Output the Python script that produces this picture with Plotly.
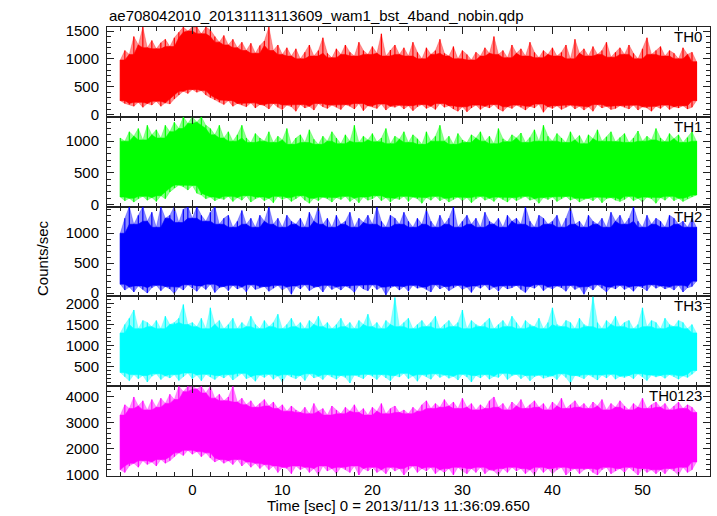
import numpy as np
import plotly.graph_objects as go
from plotly.subplots import make_subplots

# ---- data (envelopes, 0.5 s steps starting at -8 s) ----
t_start = -8.0
t_step = 0.5

th0_hi = [980, 1150, 1080, 1400, 1250, 1570, 1200, 1330,
          1180, 1290, 1350, 1220, 1380, 1480, 1570, 1500,
          1570, 1570, 1450, 1570, 1520, 1400, 1300, 1420,
          1250, 1350, 1200, 1300, 1150, 1280, 1100, 1240,
          1320, 1570, 1150, 1250, 1080, 1200, 1050, 1180,
          1000, 1120, 1250, 1050, 1150, 1380, 1100, 1020,
          1180, 1080, 1250, 1120, 1050, 1300, 1150, 1080,
          1220, 1100, 1450, 1050, 1160, 1250, 1080, 1200,
          1050, 1300, 1120, 1000, 1200, 1080, 1150, 1350,
          1100, 1050, 1220, 1000, 1150, 1080, 980, 1120,
          1050, 1200, 1100, 1400, 1080, 1150, 1020, 1250,
          1100, 1180, 1050, 1300, 1120, 1020, 1150, 1080,
          1200, 1050, 1120, 1250, 1000, 1350, 1100, 1180,
          1050, 1220, 1080, 1150, 1300, 1030, 1120, 1200,
          1080, 1250, 1100, 1000, 1180, 1380, 1080, 1150,
          1220, 1050, 1150, 1100, 1000, 1200, 1080, 1120,
          950]
th0_lo = [250, 200, 180, 150, 220, 130, 200, 170,
          240, 150, 210, 190, 280, 350, 420, 380,
          450, 400, 430, 350, 300, 260, 220, 180,
          250, 150, 200, 170, 140, 210, 120, 180,
          160, 100, 200, 130, 90, 170, 140, 60,
          180, 120, 150, 80, 200, 140, 110, 170,
          130, 90, 180, 150, 100, 200, 70, 160,
          140, 110, 190, 80, 150, 130, 170, 100,
          160, 70, 140, 180, 110, 150, 90, 200,
          130, 160, 100, 60, 140, 50, 120, 170,
          90, 150, 120, 180, 100, 60, 140, 110,
          170, 130, 80, 150, 120, 190, 40, 140,
          110, 160, 90, 130, 170, 100, 150, 80,
          140, 60, 180, 120, 150, 90, 110, 160,
          130, 100, 170, 80, 140, 120, 60, 150,
          110, 170, 90, 140, 120, 160, 100, 130,
          250]

th1_hi = [1050, 1000, 1150, 1080, 1200, 1020, 1250, 1100,
          1180, 1050, 1250, 1150, 1300, 1200, 1385, 1280,
          1385, 1300, 1385, 1250, 1200, 1100, 1250, 1050,
          1150, 1000, 1100, 1250, 1050, 980, 1120, 1050,
          1000, 1150, 980, 1080, 1020, 1200, 950, 1050,
          1100, 980, 1180, 1030, 950, 1080, 1000, 1150,
          1050, 960, 1100, 1000, 1250, 980, 1080, 1020,
          1120, 990, 1050, 1200, 960, 1080, 1030, 1150,
          980, 1100, 1040, 950, 1150, 1000, 1080, 1250,
          1000, 1080, 950, 1120, 1020, 980, 1100, 1050,
          1150, 1000, 1080, 960, 1200, 1040, 990, 1100,
          1050, 1130, 980, 1060, 1180, 1000, 1250, 1080,
          1000, 1120, 1050, 980, 1150, 1020, 1090, 960,
          1100, 1040, 1180, 1000, 1070, 1150, 990, 1060,
          1120, 980, 1050, 1160, 1000, 1080, 1020, 1200,
          1050, 990, 1120, 1040, 1100, 980, 1060, 1150,
          1000]
th1_lo = [120, 60, 100, 40, 90, 130, 70, 110,
          50, 140, 90, 200, 260, 310, 280, 230,
          300, 180, 150, 90, 120, 60, 100, 80,
          130, 50, 110, 70, 140, 40, 90, 120,
          60, 100, 30, 130, 80, 110, 50, 90,
          140, 70, 20, 100, 60, 120, 90, 40,
          110, 80, 130, 50, 100, 30, 120, 70,
          90, 140, 60, 110, 40, 100, 80, 130,
          50, 120, 90, 20, 110, 70, 130, 60,
          100, 40, 80, 120, 60, 110, 30, 90,
          130, 70, 100, 50, 120, 80, 40, 110,
          60, 100, 130, 70, 90, 20, 110, 80,
          120, 50, 90, 130, 70, 100, 40, 80,
          100, 60, 120, 30, 90, 110, 70, 50,
          80, 130, 60, 100, 40, 120, 90, 20,
          110, 70, 130, 60, 100, 50, 90, 120,
          150]

th2_hi = [1000, 1250, 1445, 1150, 1300, 1445, 1200, 1350,
          1100, 1445, 1250, 1300, 1445, 1180, 1400, 1445,
          1250, 1445, 1300, 1200, 1350, 1445, 1150, 1250,
          1300, 1100, 1200, 1380, 1150, 1250, 1100, 1300,
          1200, 1445, 1150, 1250, 1100, 1300, 1200, 1150,
          1250, 1100, 1350, 1200, 1445, 1150, 1250, 1100,
          1300, 1150, 1200, 1350, 1100, 1250, 1180, 1300,
          1150, 1445, 1200, 1100, 1300, 1250, 1150, 1350,
          1200, 1100, 1250, 1150, 1400, 1200, 1100, 1300,
          1150, 1250, 1445, 1100, 1200, 1300, 1150, 1250,
          1100, 1350, 1200, 1150, 1250, 1100, 1300, 1200,
          1250, 1150, 1445, 1200, 1100, 1300, 1250, 1150,
          1200, 1300, 1100, 1250, 1445, 1150, 1200, 1100,
          1300, 1200, 1150, 1250, 1100, 1350, 1200, 1300,
          1150, 1250, 1445, 1200, 1100, 1300, 1150, 1250,
          1200, 1100, 1300, 1250, 1150, 1200, 1100, 1250,
          1100]
th2_lo = [150, 50, 100, 20, 120, 60, 0, 90,
          130, 40, 110, 70, -10, 100, 50, 140,
          80, 30, 120, 60, 150, 10, 90, 110,
          40, 130, 70, 100, 20, 140, 60, 90,
          110, 30, 80, 130, 50, 100, -20, 120,
          70, 140, 40, 90, 110, 20, 130, 60,
          100, 50, 120, 80, 10, 130, 70, 40,
          140, 60, 100, -30, 90, 120, 50, 110,
          30, 130, 80, 100, 60, 20, 140, 70,
          110, 40, 90, 130, 60, 100, 10, 120,
          80, 140, 50, 100, 30, 120, 70, 90,
          130, 60, 10, 110, 80, 140, 40, 100,
          70, 120, 90, 30, 130, 60, 100, -20,
          110, 50, 140, 80, 20, 100, 70, 130,
          60, 100, 30, 120, 90, 40, 140, 80,
          120, 70, 100, 50, 130, 20, 90, 110,
          200]

th3_hi = [1300, 1500, 1650, 1850, 1400, 1600, 1550, 1450,
          1600, 1400, 1700, 1500, 1550, 1650, 1980, 1500,
          1550, 1450, 1650, 1400, 1900, 1500, 1600, 1400,
          1500, 1650, 1400, 1550, 1450, 1700, 1500, 1400,
          1600, 1450, 1550, 1750, 1400, 1500, 1650, 1450,
          1550, 1400, 1600, 1500, 1700, 1450, 1550, 1400,
          1500, 1650, 1450, 1550, 1400, 1600, 1500, 1750,
          1450, 1550, 1400, 1600, 1500, 2150, 1450, 1550,
          1650, 1400, 1500, 1600, 1450, 1550, 1700, 1400,
          1500, 1600, 1450, 1550, 1850, 1400, 1600, 1500,
          1450, 1550, 1650, 1400, 1500, 1600, 1450, 1700,
          1550, 1400, 1600, 1500, 1450, 1650, 1400, 1550,
          1900, 1500, 1450, 1600, 1550, 1400, 1650, 1500,
          1450, 2175, 1550, 1400, 1600, 1500, 1700, 1450,
          1550, 1600, 1400, 1500, 1900, 1450, 1600, 1550,
          1400, 1650, 1500, 1450, 1600, 1550, 1400, 1500,
          1300]
th3_lo = [350, 250, 150, 300, 200, 280, 120, 260,
          320, 180, 270, 220, 300, 160, 250, 340,
          200, 290, 150, 310, 240, 180, 280, 220,
          300, 170, 260, 330, 200, 250, 140, 290,
          230, 310, 190, 270, 120, 300, 240, 200,
          280, 160, 320, 220, 260, 180, 300, 240,
          190, 280, 230, 100, 290, 250, 200, 310,
          260, 180, 300, 220, 150, 280, 240, 330,
          200, 270, 140, 300, 250, 190, 320, 230,
          290, 210, 260, 170, 310, 240, 120, 280,
          220, 300, 190, 260, 230, 330, 180, 270,
          310, 200, 280, 150, 250, 290, 210, 240,
          270, 180, 320, 230, 90, 280, 250, 200,
          300, 240, 170, 290, 220, 310, 190, 260,
          230, 280, 200, 320, 250, 160, 290, 240,
          280, 210, 300, 250, 190, 270, 230, 310,
          400]

th0123_hi = [3300, 3700, 3550, 4000, 3650, 3850, 3500, 3900,
             3600, 3950, 3750, 4100, 3900, 4410, 4200, 4410,
             4410, 4300, 4410, 4150, 4410, 3950, 4100, 3850,
             4000, 4410, 3800, 3950, 3700, 3850, 3600, 3750,
             3900, 3650, 3800, 3550, 3700, 3450, 3650, 3500,
             3400, 3600, 3350, 3750, 3450, 3550, 3300, 3650,
             3500, 3350, 3600, 3450, 3700, 3400, 3550, 3300,
             3600, 3450, 3750, 3350, 3550, 3650, 3400, 3500,
             3350, 3600, 3450, 3700, 3850, 3550, 3750, 3600,
             3900, 3650, 3800, 3550, 3950, 3600, 3750, 3500,
             3700, 3550, 3850, 4000, 3600, 3750, 3500, 3800,
             3650, 3900, 3550, 3700, 3850, 3600, 3750, 3500,
             3800, 3650, 3950, 3550, 3700, 3850, 3600, 3750,
             3550, 3800, 3650, 3900, 3500, 3750, 3600, 3850,
             3650, 3500, 3750, 3600, 3950, 3550, 3700, 3800,
             3600, 3750, 3500, 3650, 3800, 3550, 3700, 3600,
             3400]
th0123_lo = [1200, 1100, 1350, 1450, 1300, 1550, 1400, 1500,
             1350, 1600, 1450, 1550, 1700, 1850, 1750, 1950,
             1800, 1900, 1700, 1850, 1650, 1500, 1600, 1450,
             1550, 1400, 1600, 1350, 1500, 1300, 1450, 1250,
             1400, 1200, 1350, 1100, 1300, 1250, 1050, 1350,
             1200, 1300, 1100, 1250, 1000, 1350, 1150, 1250,
             1050, 1300, 1200, 1100, 1350, 1000, 1250, 1150,
             1300, 1100, 1200, 1050, 1300, 1150, 1250, 1000,
             1200, 1350, 1100, 1250, 1150, 1300, 1050, 1200,
             1100, 1250, 1000, 1300, 1150, 1050, 1250, 1100,
             1300, 1050, 1200, 1150, 1000, 1250, 1100, 1300,
             1150, 1250, 1050, 1200, 1000, 1300, 1100, 1250,
             1050, 1200, 1300, 1000, 1150, 1250, 1050, 1200,
             1250, 1100, 1000, 1200, 1300, 1050, 1150, 1250,
             1100, 1300, 1150, 1000, 1250, 1100, 1200, 1050,
             1200, 1050, 1250, 1150, 1000, 1300, 1100, 1200,
             1500]

band_names = ["TH0", "TH1", "TH2", "TH3", "TH0123"]
band_hi = [th0_hi, th1_hi, th2_hi, th3_hi, th0123_hi]
band_lo = [th0_lo, th1_lo, th2_lo, th3_lo, th0123_lo]
band_colors = [(255, 0, 0), (0, 255, 0), (0, 0, 255), (0, 255, 255), (255, 0, 255)]
y_ranges = [[-40, 1572], [-32, 1385], [-55, 1445], [22, 2175], [962, 4410]]
y_ticks = [[0, 500, 1000, 1500], [0, 500, 1000], [0, 500, 1000],
           [500, 1000, 1500, 2000], [1000, 2000, 3000, 4000]]
y_minor = [100, 100, 100, 100, 200]
x_range = [-9.48, 57.5]
x_ticks = [0, 10, 20, 30, 40, 50]

title_text = "ae708042010_20131113113609_wam1_bst_4band_nobin.qdp"
xlabel_text = "Time [sec] 0 = 2013/11/13 11:36:09.650"
ylabel_text = "Counts/sec"

# ---- figure ----
W, H = 717, 516
ML, MR, MT, MB = 107, 7, 27, 40
FONT = "Liberation Sans, Arial, Helvetica, sans-serif"
FRAME = "#222222"

fig = make_subplots(rows=5, cols=1, shared_xaxes=True, vertical_spacing=0)

for i, (hi, lo, c) in enumerate(zip(band_hi, band_lo, band_colors)):
    n = min(len(hi), len(lo))
    hi_a = np.array(hi[:n], dtype=float)
    lo_a = np.array(lo[:n], dtype=float)
    t = t_start + t_step * np.arange(n)
    # solid core: the level reached by neighbouring samples
    core_hi = np.array([hi_a[max(0, k - 1):k + 2].min() for k in range(n)])
    core_lo = np.array([lo_a[max(0, k - 1):k + 2].max() for k in range(n)])
    solid = "rgb(%d,%d,%d)" % c
    light = "rgba(%d,%d,%d,0.45)" % c
    xs = list(t) + list(t[::-1])
    fig.add_trace(go.Scatter(x=xs, y=list(hi_a) + list(lo_a[::-1]), mode="lines",
                             fill="toself", fillcolor=light,
                             line=dict(color=light, width=0.6),
                             hoverinfo="skip", showlegend=False),
                  row=i + 1, col=1)
    fig.add_trace(go.Scatter(x=xs, y=list(core_hi) + list(core_lo[::-1]), mode="lines",
                             fill="toself", fillcolor=solid,
                             line=dict(color=solid, width=0.6),
                             hoverinfo="skip", showlegend=False),
                  row=i + 1, col=1)
    # each sample's full excursion as a thin spike
    vx, vy = [], []
    for k in range(n):
        vx += [t[k], t[k], None]
        vy += [lo_a[k], hi_a[k], None]
    fig.add_trace(go.Scatter(x=vx, y=vy, mode="lines",
                             line=dict(color=solid, width=1.2),
                             hoverinfo="skip", showlegend=False),
                  row=i + 1, col=1)

for i in range(5):
    fig.update_yaxes(range=y_ranges[i], tickvals=y_ticks[i],
                     ticks="inside", ticklen=7, tickwidth=1.2, tickcolor=FRAME,
                     minor=dict(ticks="inside", ticklen=4, tickwidth=1, tickcolor=FRAME,
                                dtick=y_minor[i], tick0=0),
                     showline=True, linecolor=FRAME, linewidth=1, mirror="allticks",
                     showgrid=False, zeroline=False, ticklabelstandoff=4,
                     tickfont=dict(family=FONT, size=15, color="black"),
                     row=i + 1, col=1)
    fig.update_xaxes(range=x_range, tickvals=x_ticks,
                     ticks="inside", ticklen=7, tickwidth=1.2, tickcolor=FRAME,
                     minor=dict(ticks="inside", ticklen=4, tickwidth=1, tickcolor=FRAME,
                                dtick=2, tick0=0),
                     showline=True, linecolor=FRAME, linewidth=1, mirror="allticks",
                     showgrid=False, zeroline=False,
                     tickfont=dict(family=FONT, size=15, color="black"),
                     row=i + 1, col=1)

plot_h = H - MT - MB
plot_w = W - ML - MR
annotations = []
for i, name in enumerate(band_names):
    top = 1 - i * 0.2
    annotations.append(dict(text=name, x=1, y=top, xref="paper", yref="paper",
                            xanchor="right", yanchor="top", xshift=-6, yshift=1,
                            showarrow=False, font=dict(family=FONT, size=15, color="black")))
annotations.append(dict(text=title_text, x=0, y=1 + (MT - 15) / plot_h, xref="paper", yref="paper",
                        xanchor="left", yanchor="middle", showarrow=False,
                        font=dict(family=FONT, size=15, color="black")))
annotations.append(dict(text=xlabel_text, x=(398 - ML) / plot_w, y=-(505 - (H - MB)) / plot_h,
                        xref="paper", yref="paper", xanchor="center", yanchor="middle",
                        showarrow=False, font=dict(family=FONT, size=15, color="black")))
annotations.append(dict(text=ylabel_text, x=(42 - ML) / plot_w, y=((H - MB) - 258) / plot_h,
                        xref="paper", yref="paper", xanchor="center", yanchor="middle",
                        textangle=-90, showarrow=False,
                        font=dict(family=FONT, size=15, color="black")))

fig.update_layout(width=W, height=H, margin=dict(l=ML, r=MR, t=MT, b=MB, autoexpand=False),
                  paper_bgcolor="white", plot_bgcolor="white",
                  annotations=annotations, showlegend=False)

fig.write_html("out.html", config={"displayModeBar": False},
               post_script="document.body.style.margin='0';document.body.style.overflow='hidden';")
